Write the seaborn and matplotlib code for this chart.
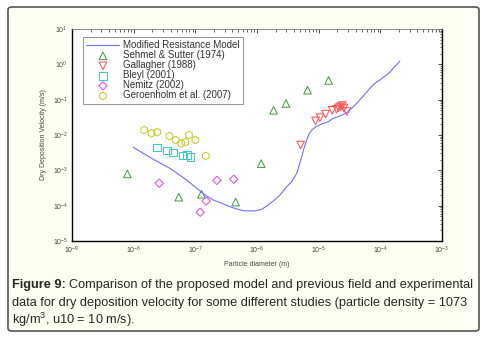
import numpy as np
import matplotlib
matplotlib.use("Agg")
import matplotlib.pyplot as plt
import seaborn as sns
from matplotlib.patches import FancyBboxPatch
from matplotlib.ticker import LogLocator, NullFormatter, LogFormatterMathtext

# Modified Resistance Model (curve)
model_d = [9.86e-9, 2.08e-8, 3.88e-8, 7.24e-8, 1.19e-7, 1.53e-7, 1.95e-7, 2.67e-7,
           3.65e-7, 4.69e-7, 6.00e-7, 9.27e-7, 1.19e-6, 1.44e-6, 1.84e-6, 2.36e-6,
           3.03e-6, 3.65e-6, 4.41e-6, 4.85e-6, 5.31e-6, 5.78e-6, 6.40e-6, 6.97e-6,
           7.71e-6, 9.06e-6, 1.12e-5, 1.43e-5, 1.73e-5, 2.22e-5, 2.84e-5, 3.43e-5,
           4.14e-5, 5.30e-5, 6.79e-5, 8.18e-5, 9.86e-5, 1.19e-4, 1.40e-4, 1.62e-4,
           2.08e-4]
model_v = [4.47e-3, 2.05e-3, 1.14e-3, 5.32e-4, 2.60e-4, 1.87e-4, 1.45e-4, 1.17e-4,
           9.33e-5, 8.04e-5, 7.19e-5, 7.06e-5, 7.89e-5, 9.77e-5, 1.36e-4, 2.00e-4,
           3.44e-4, 4.76e-4, 8.24e-4, 1.42e-3, 2.43e-3, 4.20e-3, 7.21e-3, 1.07e-2,
           1.38e-2, 1.72e-2, 2.05e-2, 2.38e-2, 2.97e-2, 3.45e-2, 4.28e-2, 5.69e-2,
           7.89e-2, 1.27e-1, 2.10e-1, 2.90e-1, 3.61e-1, 4.68e-1, 5.79e-1, 7.76e-1,
           1.24]

# Sehmel & Sutter (1974)
sehmel_d = [7.9e-9, 5.4e-8, 1.26e-7, 4.5e-7, 1.17e-6, 1.86e-6, 2.95e-6, 6.6e-6, 1.45e-5]
sehmel_v = [7.9e-4, 1.74e-4, 2.1e-4, 1.26e-4, 1.55e-3, 5.0e-2, 7.8e-2, 1.86e-1, 3.5e-1]

# Gallagher (1988)
gallagher_d = [5.1e-6, 8.9e-6, 1.05e-5, 1.29e-5, 1.66e-5, 1.95e-5, 2.1e-5, 2.24e-5,
               2.4e-5, 2.57e-5, 2.88e-5]
gallagher_v = [5.2e-3, 2.5e-2, 3.1e-2, 3.9e-2, 5.0e-2, 5.4e-2, 5.9e-2, 6.3e-2,
               6.8e-2, 5.8e-2, 4.6e-2]

# Bleyl (2001)
bleyl_d = [2.4e-8, 3.5e-8, 4.3e-8, 6.2e-8, 7.4e-8, 8.3e-8]
bleyl_v = [4.4e-3, 3.6e-3, 3.2e-3, 2.6e-3, 2.7e-3, 2.35e-3]

# Nemitz (2002)
nemitz_d = [2.6e-8, 1.2e-7, 1.5e-7, 2.24e-7, 4.2e-7]
nemitz_v = [4.3e-4, 6.5e-5, 1.35e-4, 5.2e-4, 5.6e-4]

# Geroenholm et al. (2007)
geroen_d = [1.48e-8, 1.95e-8, 2.4e-8, 3.8e-8, 4.8e-8, 5.9e-8, 6.9e-8, 7.9e-8,
            1.0e-7, 1.48e-7]
geroen_v = [1.38e-2, 1.12e-2, 1.2e-2, 9.3e-3, 7.2e-3, 5.8e-3, 6.3e-3, 1.0e-2,
            7.2e-3, 2.57e-3]

sns.set_style("white")
plt.rcParams['font.family'] = ['Liberation Sans', 'DejaVu Sans']
plt.rcParams['mathtext.fontset'] = 'custom'
plt.rcParams['mathtext.rm'] = 'Liberation Sans'

fig = plt.figure(figsize=(4.89, 3.38), dpi=100)
fig.patch.set_facecolor("white")

# cream rounded frame
frame = FancyBboxPatch((8 / 489, 7 / 338), 471 / 489, 324 / 338,
                       boxstyle="round,pad=0,rounding_size=0.008",
                       transform=fig.transFigure, facecolor="#fffef3",
                       edgecolor="#555555", linewidth=1.2, zorder=-5)
fig.patches.append(frame)

ax = fig.add_axes([72 / 489, 1 - 241 / 338, 370 / 489, 212 / 338])
ax.set_facecolor("white")

sns.lineplot(x=model_d, y=model_v, ax=ax, color="#6f6fff", linewidth=0.8,
             label="Modified Resistance Model", sort=False)

series = [
    (sehmel_d, sehmel_v, "^", "#3c9a3c", "Sehmel & Sutter (1974)"),
    (gallagher_d, gallagher_v, "v", "#ff4a4a", "Gallagher (1988)"),
    (bleyl_d, bleyl_v, "s", "#33cccc", "Bleyl (2001)"),
    (nemitz_d, nemitz_v, "D", "#dd44dd", "Nemitz (2002)"),
    (geroen_d, geroen_v, "h", "#c8c81e", "Geroenholm et al. (2007)"),
]
for xs, ys, mk, col, lab in series:
    size = 18 if mk == "D" else 30
    sns.scatterplot(x=xs, y=ys, ax=ax, marker=mk, s=size, color=col,
                    facecolors="none", edgecolors=col, linewidth=0.7, label=lab)

ax.set_xscale("log")
ax.set_yscale("log")
ax.set_xlim(1e-9, 1e-3)
ax.set_ylim(1e-5, 1e1)

for axis in (ax.xaxis, ax.yaxis):
    axis.set_major_locator(LogLocator(base=10, numticks=10))
    axis.set_minor_locator(LogLocator(base=10, subs=np.arange(2, 10), numticks=10))
    axis.set_minor_formatter(NullFormatter())
    axis.set_major_formatter(LogFormatterMathtext())
ax.tick_params(which="both", direction="in", top=True, right=True,
               labelsize=5, labelcolor="#444444", pad=3)
ax.tick_params(which="major", length=3, width=0.6)
ax.tick_params(which="minor", length=1.8, width=0.5)
for side in ["left", "bottom", "right"]:
    ax.spines[side].set_color("black")
    ax.spines[side].set_linewidth(1.0)
ax.spines["top"].set_color("#777777")
ax.spines["top"].set_linewidth(0.6)

ax.set_xlabel("Particle diameter (m)", fontsize=5, color="#444444", labelpad=3)
ax.set_ylabel("Dry Deposition Velocity (m/s)", fontsize=5, color="#444444", labelpad=4)

leg = ax.legend(loc="upper left", bbox_to_anchor=(11 / 370, 1 - 8 / 212),
                fontsize=7, frameon=True, fancybox=False, handlelength=3.4,
                borderpad=0.35, labelspacing=0.0, handletextpad=0.4,
                borderaxespad=0)
leg.get_frame().set_edgecolor("#777777")
leg.get_frame().set_linewidth(0.7)
for t in leg.get_texts():
    t.set_color("#333333")

# caption
fig.canvas.draw()
r = fig.canvas.get_renderer()
fs = 9.2
x0 = 12 / 489
t1 = fig.text(x0, 1 - 285 / 338, "Figure 9:", fontsize=fs, fontweight="bold",
              va="center", ha="left")
bb = t1.get_window_extent(renderer=r)
fig.text((bb.x1 + 3) / 489, 1 - 285 / 338,
         "Comparison of the proposed model and previous field and experimental",
         fontsize=fs, va="center", ha="left")
fig.text(x0, 1 - 303 / 338,
         "data for dry deposition velocity for some different studies (particle density = 1073",
         fontsize=fs, va="center", ha="left")
fig.text(x0, 1 - 320 / 338, "kg/m$^3$, u10 = 10 m/s).", fontsize=fs, va="center", ha="left")

fig.savefig("out.png", dpi=100, facecolor=fig.get_facecolor())
